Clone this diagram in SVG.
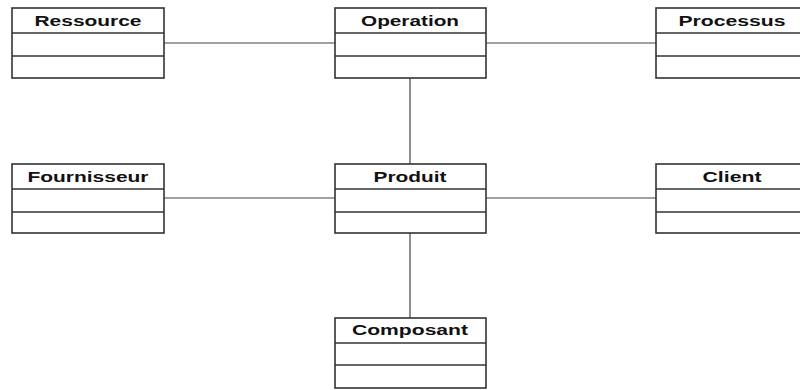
<svg xmlns="http://www.w3.org/2000/svg" width="800" height="390" viewBox="0 0 800 390">
<style>
.box{fill:#fff;stroke:#333;stroke-width:1.6}
.sep{stroke:#333;stroke-width:1.4}
.conn{stroke:#444;stroke-width:1.2;fill:none}
text{font-family:"Liberation Sans",Arial,sans-serif;font-weight:bold;font-size:14px;fill:#111;text-anchor:middle}
</style>
<rect width="800" height="390" fill="#fff"/>
<g id="connectors">
<line class="conn" x1="164" y1="43" x2="335" y2="43"/>
<line class="conn" x1="486" y1="43" x2="656" y2="43"/>
<line class="conn" x1="410" y1="78" x2="410" y2="164"/>
<line class="conn" x1="164" y1="198" x2="335" y2="198"/>
<line class="conn" x1="486" y1="198" x2="656" y2="198"/>
<line class="conn" x1="410" y1="233" x2="410" y2="318"/>
</g>
<g id="Ressource">
<rect class="box" x="12" y="8" width="152" height="70"/>
<line class="sep" x1="12" y1="33" x2="164" y2="33"/>
<line class="sep" x1="12" y1="56" x2="164" y2="56"/>
<text x="88" y="26" textLength="107" lengthAdjust="spacingAndGlyphs">Ressource</text>
</g>
<g id="Operation">
<rect class="box" x="335" y="8" width="151" height="70"/>
<line class="sep" x1="335" y1="33" x2="486" y2="33"/>
<line class="sep" x1="335" y1="56" x2="486" y2="56"/>
<text x="410" y="26" textLength="98" lengthAdjust="spacingAndGlyphs">Operation</text>
</g>
<g id="Processus">
<rect class="box" x="656" y="8" width="152" height="70"/>
<line class="sep" x1="656" y1="33" x2="808" y2="33"/>
<line class="sep" x1="656" y1="56" x2="808" y2="56"/>
<text x="732" y="26" textLength="107" lengthAdjust="spacingAndGlyphs">Processus</text>
</g>
<g id="Fournisseur">
<rect class="box" x="12" y="164" width="152" height="69"/>
<line class="sep" x1="12" y1="189" x2="164" y2="189"/>
<line class="sep" x1="12" y1="212" x2="164" y2="212"/>
<text x="88" y="182" textLength="121" lengthAdjust="spacingAndGlyphs">Fournisseur</text>
</g>
<g id="Produit">
<rect class="box" x="335" y="164" width="151" height="69"/>
<line class="sep" x1="335" y1="189" x2="486" y2="189"/>
<line class="sep" x1="335" y1="212" x2="486" y2="212"/>
<text x="410" y="182" textLength="73" lengthAdjust="spacingAndGlyphs">Produit</text>
</g>
<g id="Client">
<rect class="box" x="656" y="164" width="152" height="69"/>
<line class="sep" x1="656" y1="189" x2="808" y2="189"/>
<line class="sep" x1="656" y1="212" x2="808" y2="212"/>
<text x="732" y="182" textLength="59" lengthAdjust="spacingAndGlyphs">Client</text>
</g>
<g id="Composant">
<rect class="box" x="335" y="318" width="151" height="70"/>
<line class="sep" x1="335" y1="343" x2="486" y2="343"/>
<line class="sep" x1="335" y1="365" x2="486" y2="365"/>
<text x="410" y="335" textLength="116" lengthAdjust="spacingAndGlyphs">Composant</text>
</g>
</svg>
